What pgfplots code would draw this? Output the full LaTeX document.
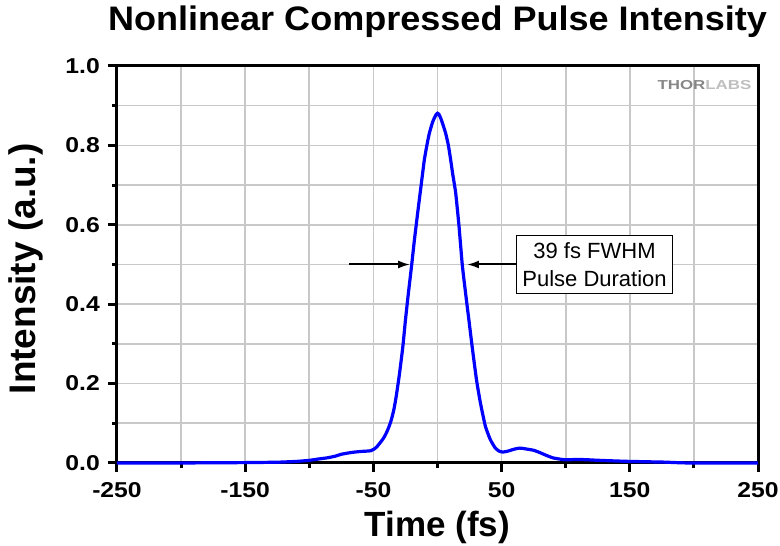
\documentclass[border=0pt]{standalone}
\usepackage{fontspec}
\setmainfont{Liberation Sans}
\newfontfamily\tickfont{Liberation Sans}[FakeStretch=1.15]
\newfontfamily\titlefont{Liberation Sans}[FakeStretch=1.06]
\newfontfamily\logofont{Liberation Sans}[FakeStretch=1.3]
\usepackage{pgfplots}
\pgfplotsset{compat=1.18}
\usetikzlibrary{arrows.meta}
\definecolor{gridgray}{RGB}{200,200,200}
\definecolor{plotblue}{RGB}{0,0,255}
\definecolor{logodark}{RGB}{135,135,135}
\definecolor{logolight}{RGB}{190,190,190}

\pgfplotstableread{
t v
-250 0
-200 0
-180 0.0005
-150 0.001
-125 0.002
-110 0.004
-100 0.0067
-93 0.01
-86 0.013
-80 0.017
-75 0.022
-70 0.025
-66 0.027
-60 0.029
-55 0.030
-52 0.031
-49 0.036
-47 0.042
-45 0.05
-42 0.063
-40 0.075
-38 0.09
-36 0.109
-34 0.135
-32.2 0.168
-29.6 0.226
-27 0.294
-25 0.36
-22.7 0.428
-20.1 0.50
-18 0.562
-15.5 0.629
-12.9 0.696
-10.3 0.763
-8 0.805
-6.4 0.83
-4 0.857
-2.6 0.868
-1 0.878
0 0.881
1 0.879
2.6 0.868
4.5 0.85
6.4 0.83
8.5 0.80
10.3 0.763
12 0.725
14.2 0.68
16.8 0.596
19.3 0.50
21.9 0.428
24.5 0.36
27 0.294
30.4 0.21
33.5 0.151
37.4 0.092
41.2 0.059
45 0.038
48 0.030
51 0.0275
55 0.030
60 0.035
64 0.0375
68 0.036
75 0.032
80 0.026
85 0.019
90 0.013
95 0.010
100 0.008
105 0.0085
110 0.009
118 0.008
126 0.0067
140 0.005
150 0.004
165 0.003
177 0.0022
190 0.0005
200 0
250 0
}\pulsedata

\begin{document}
\begin{tikzpicture}
\path (-117pt,-83pt) rectangle (663pt,463pt);
\begin{axis}[
  at={(0,0)}, anchor=south west,
  scale only axis, width=641pt, height=397pt,
  xmin=-250, xmax=250, ymin=0, ymax=1,
  xtick={-250,-150,-50,50,150,250},
  xticklabels={-250,-150,-50,50,150,250},
  minor xtick={-200,-100,0,100,200},
  ytick={0,0.2,0.4,0.6,0.8,1.0},
  yticklabels={0.0,0.2,0.4,0.6,0.8,1.0},
  minor ytick={0.1,0.3,0.5,0.7,0.9},
  grid=both,
  major grid style={gridgray, line width=1.6pt},
  minor grid style={gridgray, line width=1.6pt},
  tick align=outside,
  xtick pos=left, ytick pos=left,
  major tick length=9pt, minor tick length=5pt,
  every tick/.style={black, line width=3pt},
  every minor tick/.style={black, line width=3pt},
  axis line style={line width=3pt},
  xticklabel style={font=\tickfont\bfseries\fontsize{21.5}{24}\selectfont, anchor=base, inner sep=0pt, yshift=-26pt},
  yticklabel style={font=\tickfont\bfseries\fontsize{21.5}{24}\selectfont, anchor=east, inner sep=0pt, xshift=-8pt},
  title={Nonlinear Compressed Pulse Intensity},
  title style={font=\titlefont\bfseries\fontsize{34}{40}\selectfont, at={(axis description cs:0.5,1)}, anchor=base, yshift=29pt, inner sep=0pt},
  xlabel={Time (fs)},
  xlabel style={font=\bfseries\fontsize{35}{40}\selectfont, at={(axis description cs:0.5,-0.186)}, anchor=base, inner sep=0pt},
  ylabel={Intensity (a.u.)},
  ylabel style={font=\bfseries\fontsize{37}{42}\selectfont, at={(axis description cs:-0.1264,0.489)}, anchor=base, inner sep=0pt},
  clip=false,
]
\addplot[plotblue, line width=3.2pt, smooth, tension=0.3] table[x=t, y=v] {\pulsedata};
\draw[black, line width=2pt, -{Latex[length=12pt,width=8pt]}] (axis cs:-69,0.5) -- (axis cs:-21.4,0.5);
\draw[black, line width=2pt, -{Latex[length=12pt,width=8pt]}] (axis cs:76.8,0.5) -- (axis cs:23,0.5);
\node[draw=black, fill=white, line width=1.1pt, align=center, inner xsep=5.5pt, inner ysep=0pt, minimum height=58pt, font=\fontsize{22}{27.6}\selectfont] at (axis cs:122.5,0.5) {39 fs FWHM\\Pulse Duration};
\node[anchor=base, inner sep=0pt, font=\logofont\bfseries\fontsize{13}{15}\selectfont] at (axis description cs:0.9165,0.9408) {\textcolor{logodark}{THOR}\textcolor{logolight}{LABS}};
\end{axis}
\end{tikzpicture}
\end{document}
